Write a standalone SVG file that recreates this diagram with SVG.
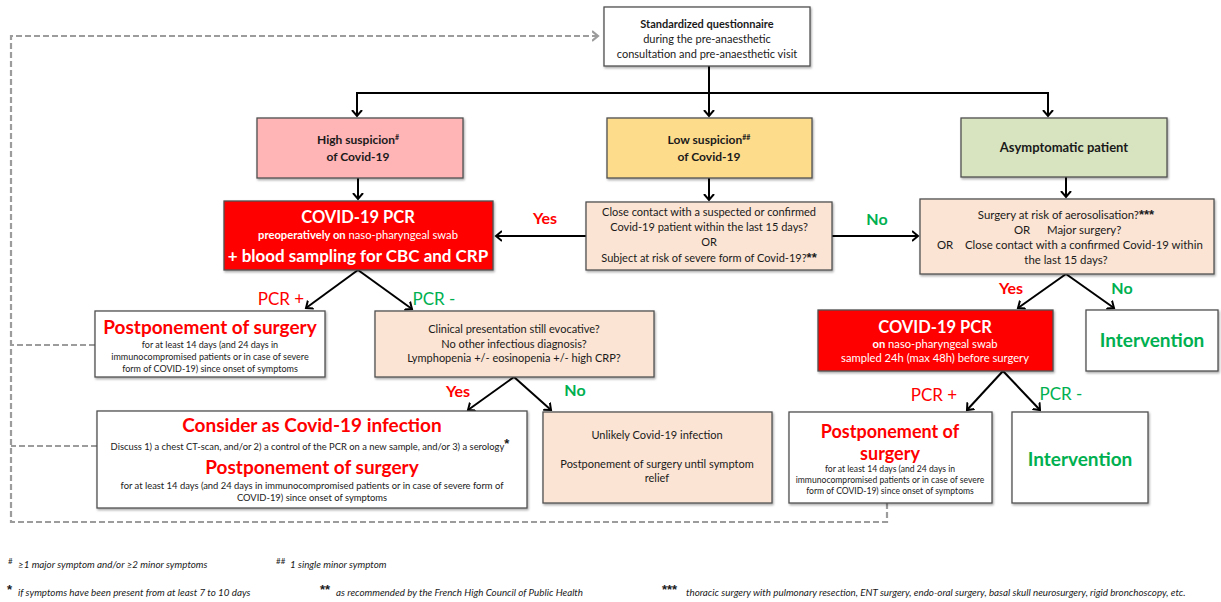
<svg xmlns="http://www.w3.org/2000/svg" width="1221" height="602" viewBox="0 0 1221 602">
<style>
text{font-family:Lato,"Liberation Sans",sans-serif;fill:#1a1a1a}
.box{stroke:#505050;stroke-width:1.3}
.w{fill:#fff}.pink{fill:#ffb4b6}.yel{fill:#fddc8c}.grn{fill:#d8e4bf}.peach{fill:#fbe4d3}.red{fill:#ff0000}
.c{text-anchor:middle}
.b{font-weight:bold}
.rt{fill:#ff0000}.gt{fill:#00b050}.wt{fill:#fff}
.con{stroke:#000;stroke-width:2;fill:none}
.dash{stroke:#9c9c9c;stroke-width:2.2;fill:none;stroke-dasharray:6 3}
.fn{font-style:italic;font-size:9.8px}
.ast{font-family:"Liberation Sans",sans-serif;font-weight:bold;font-size:13px}
</style>
<defs>
<marker id="arr" markerUnits="userSpaceOnUse" markerWidth="12" markerHeight="12" refX="6" refY="5" orient="auto" viewBox="0 0 12 10">
<path d="M0,0 L6,5 L0,10" fill="none" stroke="#000" stroke-width="2"/>
</marker>
<marker id="garr" markerUnits="userSpaceOnUse" markerWidth="12" markerHeight="12" refX="6" refY="5" orient="auto" viewBox="0 0 12 10">
<path d="M0,0 L6,5 L0,10" fill="none" stroke="#9c9c9c" stroke-width="2.2"/>
</marker>
<filter id="sh" x="-5%" y="-5%" width="110%" height="115%"><feDropShadow dx="1" dy="1.5" stdDeviation="0.8" flood-color="#000" flood-opacity="0.35"/></filter>
</defs>

<g id="connectors">
<path class="dash" d="M887,503 V522 H11 V36 H598" marker-end="url(#garr)"/>
<path class="dash" d="M95,345 H11"/>
<path class="dash" d="M97,446 H11"/>
<path class="con" d="M709,66 V116" marker-end="url(#arr)"/>
<path class="con" d="M357,116 V93 H1048 V116" marker-end="url(#arr)"/>
<path class="con" d="M357,93 V116" marker-end="url(#arr)"/>
<path class="con" d="M358,178 V199" marker-end="url(#arr)"/>
<path class="con" d="M709,178 V200" marker-end="url(#arr)"/>
<path class="con" d="M1066,177 V197" marker-end="url(#arr)"/>
<path class="con" d="M586,236 H496" marker-end="url(#arr)"/>
<path class="con" d="M832,236 H918" marker-end="url(#arr)"/>
<path class="con" d="M358,270 L306,308" marker-end="url(#arr)"/>
<path class="con" d="M358,270 L412,309" marker-end="url(#arr)"/>
<path class="con" d="M514,377 L468,410" marker-end="url(#arr)"/>
<path class="con" d="M514,377 L551,410" marker-end="url(#arr)"/>
<path class="con" d="M1066,274 L1018,308" marker-end="url(#arr)"/>
<path class="con" d="M1066,274 L1114,308" marker-end="url(#arr)"/>
<path class="con" d="M1003,371 L967,410" marker-end="url(#arr)"/>
<path class="con" d="M1003,371 L1040,410" marker-end="url(#arr)"/>
<text class="b rt c" x="545" y="224" font-size="16">Yes</text>
<text class="b gt c" x="877" y="225" font-size="16">No</text>
<text class="rt c" x="281" y="305" font-size="17">PCR +</text>
<text class="gt c" x="434" y="305" font-size="17">PCR -</text>
<text class="b rt c" x="458" y="397" font-size="16">Yes</text>
<text class="b gt c" x="575" y="396" font-size="16">No</text>
<text class="b rt c" x="1011" y="294" font-size="16">Yes</text>
<text class="b gt c" x="1122" y="294" font-size="16">No</text>
<text class="rt c" x="934" y="401" font-size="17">PCR +</text>
<text class="gt c" x="1061" y="400" font-size="17">PCR -</text>
</g>

<g id="questionnaire">
<rect class="box w" filter="url(#sh)" x="604" y="7" width="206" height="59"/>
<text class="c b" x="707" y="28" font-size="11">Standardized questionnaire</text>
<text class="c" x="707" y="43" font-size="11">during the pre-anaesthetic</text>
<text class="c" x="707" y="58" font-size="11">consultation and pre-anaesthetic visit</text>
</g>

<g id="high">
<rect class="box pink" filter="url(#sh)" x="257" y="118" width="206" height="60"/>
<text class="c b" x="358" y="144" font-size="12">High suspicion<tspan font-size="7" dy="-4">#</tspan></text>
<text class="c b" x="358" y="161" font-size="12">of Covid-19</text>
</g>

<g id="low">
<rect class="box yel" filter="url(#sh)" x="607" y="118" width="205" height="60"/>
<text class="c b" x="709" y="144" font-size="12">Low suspicion<tspan font-size="7" dy="-4">##</tspan></text>
<text class="c b" x="709" y="161" font-size="12">of Covid-19</text>
</g>

<g id="asymptomatic">
<rect class="box grn" filter="url(#sh)" x="961" y="118" width="206" height="59"/>
<text class="c b" x="1064" y="152" font-size="13">Asymptomatic patient</text>
</g>

<g id="pcr1">
<rect class="box red" filter="url(#sh)" x="224" y="201" width="269" height="69"/>
<text class="c b wt" x="358" y="223" font-size="16.5">COVID-19 PCR</text>
<text class="c wt" x="358" y="239" font-size="11.2"><tspan class="b wt">preoperatively on</tspan> naso-pharyngeal swab</text>
<text class="c b wt" x="358" y="262" font-size="17">+ blood sampling for CBC and CRP</text>
</g>

<g id="contact">
<rect class="box peach" filter="url(#sh)" x="586" y="202" width="246" height="68"/>
<text class="c" x="709" y="216" font-size="11">Close contact with a suspected or confirmed</text>
<text class="c" x="709" y="231" font-size="11">Covid-19 patient within the last 15 days?</text>
<text class="c" x="709" y="246" font-size="11">OR</text>
<text class="c" x="709" y="262" font-size="11">Subject at risk of severe form of Covid-19?<tspan class="ast" font-size="11">**</tspan></text>
</g>

<g id="surgeryrisk">
<rect class="box peach" filter="url(#sh)" x="920" y="199" width="294" height="75"/>
<text class="c" x="1066" y="219" font-size="11.4">Surgery at risk of aerosolisation?<tspan class="ast" font-size="11">***</tspan></text>
<text x="1014" y="234" font-size="11.4">OR</text>
<text x="1047" y="234" font-size="11.4">Major surgery?</text>
<text x="937" y="249" font-size="11.4">OR</text>
<text x="965" y="249" font-size="11.4">Close contact with a confirmed Covid-19 within</text>
<text class="c" x="1066" y="264" font-size="11.4">the last 15 days?</text>
</g>

<g id="postpone1">
<rect class="box w" filter="url(#sh)" x="95" y="311" width="230" height="66"/>
<text class="c b rt" x="210" y="334" font-size="19">Postponement of surgery</text>
<text class="c" x="210" y="348" font-size="9">for at least 14 days (and 24 days in</text>
<text class="c" x="210" y="360" font-size="9">immunocompromised patients or in case of severe</text>
<text class="c" x="210" y="372" font-size="9">form of COVID-19) since onset of symptoms</text>
</g>

<g id="clinical">
<rect class="box peach" filter="url(#sh)" x="375" y="311" width="279" height="66"/>
<text class="c" x="514" y="333" font-size="11">Clinical presentation still evocative?</text>
<text class="c" x="514" y="348" font-size="11">No other infectious diagnosis?</text>
<text class="c" x="514" y="362" font-size="11">Lymphopenia +/- eosinopenia +/- high CRP?</text>
</g>

<g id="consider">
<rect class="box w" filter="url(#sh)" x="97" y="411" width="430" height="97"/>
<text class="c b rt" x="312" y="432" font-size="19">Consider as Covid-19 infection</text>
<text class="c" x="310" y="450" font-size="9.4">Discuss 1) a chest CT-scan, and/or 2) a control of the PCR on a new sample, and/or 3) a serology<tspan class="ast" dy="-2">*</tspan></text>
<text class="c b rt" x="312" y="474" font-size="19">Postponement of surgery</text>
<text class="c" x="312" y="489" font-size="9.4">for at least 14 days (and 24 days in immunocompromised patients or in case of severe form of</text>
<text class="c" x="312" y="501" font-size="9.4">COVID-19) since onset of symptoms</text>
</g>

<g id="unlikely">
<rect class="box peach" filter="url(#sh)" x="543" y="412" width="229" height="91"/>
<text class="c" x="657" y="439" font-size="11">Unlikely Covid-19 infection</text>
<text class="c" x="657" y="468" font-size="11">Postponement of surgery until symptom</text>
<text class="c" x="657" y="482" font-size="11">relief</text>
</g>

<g id="pcr2">
<rect class="box red" filter="url(#sh)" x="818" y="310" width="235" height="61"/>
<text class="c b wt" x="935" y="333" font-size="16.5">COVID-19 PCR</text>
<text class="c wt" x="935" y="348" font-size="11.2"><tspan class="b wt">on</tspan> naso-pharyngeal swab</text>
<text class="c wt" x="935" y="362" font-size="11.2">sampled 24h (max 48h) before surgery</text>
</g>

<g id="intervention1">
<rect class="box w" filter="url(#sh)" x="1086" y="310" width="132" height="61"/>
<text class="c b gt" x="1152" y="347" font-size="19">Intervention</text>
</g>

<g id="postpone2">
<rect class="box w" filter="url(#sh)" x="789" y="412" width="203" height="91"/>
<text class="c b rt" x="890" y="438" font-size="18">Postponement of</text>
<text class="c b rt" x="890" y="460" font-size="18">surgery</text>
<text class="c" x="890" y="472" font-size="8.6">for at least 14 days (and 24 days in</text>
<text class="c" x="890" y="483" font-size="8.6">immunocompromised patients or in case of severe</text>
<text class="c" x="890" y="494" font-size="8.6">form of COVID-19) since onset of symptoms</text>
</g>

<g id="intervention2">
<rect class="box w" filter="url(#sh)" x="1012" y="412" width="136" height="91"/>
<text class="c b gt" x="1080" y="466" font-size="19">Intervention</text>
</g>

<g id="footnotes">
<text x="8" y="564" font-size="8">#</text>
<text class="fn" x="18" y="568">≥1 major symptom and/or ≥2 minor symptoms</text>
<text x="276" y="564" font-size="8">##</text>
<text class="fn" x="290" y="568">1 single minor symptom</text>
<text class="ast" x="7" y="594">*</text>
<text class="fn" x="18" y="596">if symptoms have been present from at least 7 to 10 days</text>
<text class="ast" x="320" y="594">**</text>
<text class="fn" x="336" y="596">as recommended by the French High Council of Public Health</text>
<text class="ast" x="662" y="594">***</text>
<text class="fn" x="686" y="596">thoracic surgery with pulmonary resection, ENT surgery, endo-oral surgery, basal skull neurosurgery, rigid bronchoscopy, etc.</text>
</g>
</svg>
